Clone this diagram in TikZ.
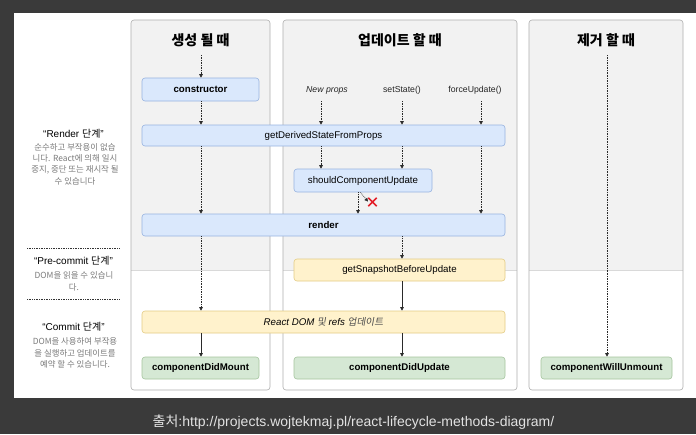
\documentclass[tikz,border=0pt]{standalone}
\usepackage{fontspec}
\setmainfont{Liberation Sans}
\newfontfamily\kr{Noto Sans CJK KR}
\newfontfamily\krsl[FakeSlant=0.18]{Noto Sans CJK KR}
\usetikzlibrary{arrows.meta}
\definecolor{bgdark}{HTML}{3A3A3A}
\definecolor{colfill}{HTML}{F2F2F2}
\definecolor{colborder}{HTML}{AFAFAF}
\definecolor{sepcol}{HTML}{D9D9D9}
\definecolor{bluefill}{HTML}{DAE8FC}
\definecolor{blueline}{HTML}{97B3E0}
\definecolor{yelfill}{HTML}{FFF2CC}
\definecolor{yelline}{HTML}{E3CC85}
\definecolor{grnfill}{HTML}{D5E8D4}
\definecolor{grnline}{HTML}{A5C59E}
\definecolor{desccol}{HTML}{7A7A7A}
\definecolor{arrcol}{HTML}{2A2A2A}
\definecolor{capcol}{HTML}{E2E2E2}
\definecolor{xred}{HTML}{E3202A}
\tikzset{
  box/.style={rounded corners=3pt, line width=0.6pt, inner sep=0pt, text=black,
    font=\fontsize{9.7}{11}\selectfont},
  bluebox/.style={box, draw=blueline, fill=bluefill},
  yelbox/.style={box, draw=yelline, fill=yelfill},
  grnbox/.style={box, draw=grnline, fill=grnfill},
  colbody/.style={draw=colborder, line width=0.6pt, rounded corners=3pt},
  header/.style={font=\kr\bfseries\fontsize{14}{16}\selectfont, text=black},
  inlabel/.style={font=\fontsize{8.7}{10}\selectfont, text=black!85},
  phase/.style={font=\fontsize{10}{12}\selectfont, text=black},
  desc/.style={font=\kr\fontsize{8.4}{11.3}\selectfont, text=desccol, align=center},
  darr/.style={draw=arrcol, line width=0.65pt, densely dotted, -{Triangle[length=3.5pt,width=3.5pt]}},
  sarr/.style={draw=arrcol, line width=0.65pt, -{Triangle[length=3.5pt,width=3.5pt]}},
  sepdots/.style={draw=black!80, line width=0.7pt, densely dotted},
}
\begin{document}
\begin{tikzpicture}[x=1pt,y=-1pt]
\useasboundingbox (0,0) rectangle (696,434);
\fill[bgdark] (0,0) rectangle (696,434);
\fill[white] (14,13) rectangle (696,398);

% columns
\foreach \xa/\xb in {131/270, 283/517, 529/683}{
  \fill[white, rounded corners=3pt] (\xa,20) rectangle (\xb,390);
  \begin{scope}
    \clip (\xa,19) rectangle (\xb,270);
    \fill[colfill, rounded corners=3pt] (\xa,20) rectangle (\xb,390);
  \end{scope}
  \draw[sepcol, line width=0.8pt] (\xa,270) -- (\xb,270);
  \draw[colbody] (\xa,20) rectangle (\xb,390);
}

% headers
\node[header] (h1) at (200.5,40) {생성 될 때};
\node[header] (h2) at (400,40) {업데이트 할 때};
\node[header] (h3) at (606,40) {제거 할 때};

% inputs
\node[inlabel] (np) at (327,90) {\textit{New props}};
\node[inlabel] (ss) at (402,90) {setState()};
\node[inlabel] (fu) at (475,90) {forceUpdate()};

% method boxes
\node[bluebox, minimum width=117pt, minimum height=23pt] (ctor) at (200.5,89.5) {\textbf{constructor}};
\node[bluebox, minimum width=363pt, minimum height=21pt] (gdsfp) at (323.5,135.5) {getDerivedStateFromProps};
\node[bluebox, minimum width=138pt, minimum height=23pt] (scu) at (363,180.5) {shouldComponentUpdate};
\node[bluebox, minimum width=363pt, minimum height=22pt] (render) at (323.5,225) {\textbf{render}};
\node[yelbox, minimum width=211pt, minimum height=22pt] (snap) at (399.5,270) {getSnapshotBeforeUpdate};
\node[yelbox, minimum width=363pt, minimum height=22pt] (rdom) at (323.5,322) {\textit{React DOM} {\krsl\color{black!70}및} \textit{refs} {\krsl\color{black!70}업데이트}};
\node[grnbox, minimum width=117pt, minimum height=22pt] (mount) at (200.5,368) {\textbf{componentDidMount}};
\node[grnbox, minimum width=211pt, minimum height=22pt] (upd) at (399.5,368) {\textbf{componentDidUpdate}};
\node[grnbox, minimum width=131pt, minimum height=22pt] (unmount) at (606.5,368) {\textbf{componentWillUnmount}};

% red cross
\node[minimum size=8pt, inner sep=0pt] (xmark) at (372.5,202) {};
\draw[xred, line width=1.7pt] (xmark.north west) -- (xmark.south east)
                              (xmark.north east) -- (xmark.south west);

% helper coordinates
\coordinate (X1) at (201,0);
\coordinate (XA) at (321,0);
\coordinate (XB) at (402,0);
\coordinate (XC) at (481,0);
\coordinate (XD) at (358,0);
\coordinate (XE) at (360.5,0);
\coordinate (X3) at (607,0);
\coordinate (s1) at (201,55);
\coordinate (s3) at (607,55);
\coordinate (a1) at (321,101);
\coordinate (a2) at (402,101);
\coordinate (a3) at (481,101);

% connectors: mounting column
\draw[darr] (s1) -- (ctor.north -| X1);
\draw[darr] (ctor.south -| X1) -- (gdsfp.north -| X1);
\draw[darr] (gdsfp.south -| X1) -- (render.north -| X1);
\draw[darr] (render.south -| X1) -- (rdom.north -| X1);
\draw[sarr] (rdom.south -| X1) -- (mount.north -| X1);
% updating column
\draw[darr] (a1) -- (gdsfp.north -| XA);
\draw[darr] (a2) -- (gdsfp.north -| XB);
\draw[darr] (a3) -- (gdsfp.north -| XC);
\draw[darr] (gdsfp.south -| XA) -- (scu.north -| XA);
\draw[darr] (gdsfp.south -| XB) -- (scu.north -| XB);
\draw[darr] (gdsfp.south -| XC) -- (render.north -| XC);
\draw[darr] (scu.south -| XD) -- (render.north -| XD);
\draw[darr, shorten >=0.5pt] (scu.south -| XE) -- (xmark.west);
\draw[darr] (render.south -| XB) -- (snap.north -| XB);
\draw[sarr] (snap.south -| XB) -- (rdom.north -| XB);
\draw[sarr] (rdom.south -| XB) -- (upd.north -| XB);
% unmounting column
\draw[darr] (s3) -- (unmount.north -| X3);

% phase labels
\node[phase] (p1) at (73.5,134) {“Render {\kr 단계}”};
\node[desc] (d1) at (75,164) {순수하고 부작용이 없습\\니다. React에 의해 일시\\중지, 중단 또는 재시작 될\\수 있습니다};
\coordinate (l1a) at (27,248);
\coordinate (l1b) at (119,248);
\draw[sepdots] (l1a) -- (l1b);
\node[phase] (p2) at (73.5,261) {“Pre-commit {\kr 단계}”};
\node[desc] (d2) at (74,281.5) {DOM을 읽을 수 있습니\\다.};
\coordinate (l2a) at (27,299);
\coordinate (l2b) at (119,299);
\draw[sepdots] (l2a) -- (l2b);
\node[phase] (p3) at (73.5,327) {“Commit {\kr 단계}”};
\node[desc] (d3) at (75,353) {DOM을 사용하여 부작용\\을 실행하고 업데이트를\\예약 할 수 있습니다.};

% caption
\node[text=capcol, font=\fontsize{14}{16}\selectfont] (cap) at (353.5,422) {{\kr 출처}:http://projects.wojtekmaj.pl/react-lifecycle-methods-diagram/};
\end{tikzpicture}
\end{document}
